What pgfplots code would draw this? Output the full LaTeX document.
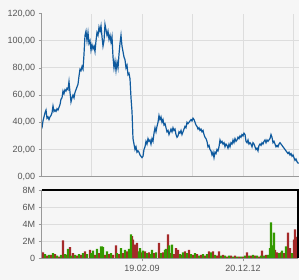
\documentclass[border=0pt]{standalone}
\usepackage{pgfplots}
\pgfplotsset{compat=1.18}
\usepackage{fontspec}
\setmainfont{Liberation Sans}
\definecolor{bg}{HTML}{F6F6F6}
\definecolor{gridc}{HTML}{DDDDDD}
\definecolor{axc}{HTML}{999999}
\definecolor{txt}{HTML}{555555}
\definecolor{linec}{HTML}{0F5A9E}
\definecolor{redv}{HTML}{A52A2A}
\definecolor{greenv}{HTML}{339900}
\begin{document}
\begin{tikzpicture}
\fill[bg] (0bp,0bp) rectangle (299bp,-280bp);
\useasboundingbox (0bp,0bp) rectangle (299bp,-280bp);
\pgfplotsset{
  chartstyle/.style={
    scale only axis,
    axis line style={draw=none},
    tick align=outside,
    major tick length=3bp,
    tick style={axc, line width=0.8bp},
    grid style={gridc, line width=1bp},
    tick label style={font=\fontsize{9bp}{10bp}\selectfont, text=txt},
    ytick pos=left, xtick pos=bottom,
    /pgf/number format/assume math mode=true,
  }
}
\begin{axis}[chartstyle,
  at={(41.7bp,-176.7bp)}, anchor=south west,
  width=257.3bp, height=163.2bp,
  xmin=0.7, xmax=258, ymin=0, ymax=120,
  xtick={50,101,151,202,252}, xticklabels={}, xmajorgrids,
  xtick style={draw=none},
  ytick={20,40,60,80,100},
  yticklabels={{20,00},{40,00},{60,00},{80,00},{100,00}},
  ymajorgrids,
  extra y ticks={0,120},
  extra y tick labels={{0,00},{120,00}},
  extra y tick style={grid=none},
]
\addplot[linec, line width=1.2bp] coordinates {
(0,35)(1,36)(2,41)(3,44)(4,47)(5,49)(6,43)(7,44)(8,42)(9,44)(10,45)(11,47)(12,52)(13,48)(14,49)(15,48)(16,50)(17,49)(18,51)(19,53)
(20,57)(21,58)(22,63)(23,61)(24,64)(25,63)(26,65)(27,64)(28,70)(29,62)(30,55)(31,58)(32,60)(33,58)(34,62)(35,64)(36,66)(37,68)(38,74)(39,79)
(40,78)(41,81)(42,79)(43,90)(44,104)(45,107)(46,100)(47,106)(48,98)(49,100)(50,93)(51,97)(52,94)(53,96)(54,92)(55,100)(56,106)(57,104)(58,110)(59,107)
(60,111)(61,103)(62,96)(63,100)(64,112)(65,108)(66,104)(67,107)(68,101)(69,104)(70,99)(71,103)(72,88)(73,80)(74,85)(75,78)(76,84)(77,80)(78,90)(79,98)
(80,104)(81,96)(82,92)(83,88)(84,86)(85,80)(86,82)(87,75)(88,76)(89,72)(90,58)(91,48)(92,28)(93,24)(94,20)(95,22)(96,18)(97,19)(98,18)(99,16)
(100,15)(101,14)(102,15)(103,20)(104,22)(105,26)(106,24)(107,28)(108,26)(109,27)(110,24)(111,28)(112,26)(113,32)(114,36)(115,33)(116,37)(117,40)(118,45)(119,42)
(120,44)(121,40)(122,42)(123,38)(124,39)(125,36)(126,33)(127,34)(128,31)(129,33)(130,35)(131,33)(132,36)(133,34)(134,35)(135,31)(136,29)(137,30)(138,33)(139,32)
(140,34)(141,31)(142,33)(143,35)(144,37)(145,36)(146,40)(147,39)(148,40)(149,41)(150,42)(151,41)(152,43)(153,42)(154,40)(155,38)(156,37)(157,35)(158,36)(159,34)
(160,35)(161,33)(162,34)(163,31)(164,29)(165,28)(166,26)(167,22)(168,23)(169,20)(170,19)(171,16)(172,18)(173,14)(174,18)(175,17)(176,20)(177,19)(178,22)(179,27)
(180,25)(181,26)(182,24)(183,25)(184,22)(185,24)(186,23)(187,21)(188,24)(189,22)(190,25)(191,24)(192,27)(193,25)(194,28)(195,26)(196,27)(197,29)(198,28)(199,30)
(200,29)(201,31)(202,30)(203,32)(204,31)(205,26)(206,25)(207,27)(208,24)(209,25)(210,24)(211,22)(212,25)(213,24)(214,22)(215,20)(216,21)(217,19)(218,23)(219,24)
(220,23)(221,25)(222,24)(223,26)(224,27)(225,25)(226,27)(227,26)(228,27)(229,28)(230,31)(231,29)(232,25)(233,26)(234,24)(235,22)(236,23)(237,22)(238,24)(239,25)
(240,24)(241,23)(242,22)(243,21)(244,20)(245,19)(246,18)(247,17)(248,18)(249,16)(250,17)(251,15)(252,16)(253,14)(254,12)(255,13)(256,11)(257,10)(258,10)
};
\end{axis}
\draw[axc, line width=1bp] (41.7bp,-13.3bp) -- (41.7bp,-176.7bp) -- (299bp,-176.7bp);
\begin{axis}[chartstyle,
  at={(41.7bp,-258.3bp)}, anchor=south west,
  width=256.3bp, height=68.3bp,
  xmin=0.7, xmax=257, ymin=0, ymax=8,
  xtick={101,202}, xticklabels={19.02.09,20.12.12}, xmajorgrids,
  ytick={2,4,6}, yticklabels={2M,4M,6M}, ymajorgrids,
  extra y ticks={0,8}, extra y tick labels={0,8M},
  extra y tick style={grid=none},
]
\addplot[ybar, bar width=2.2, bar shift=0pt, fill=redv, draw=none] coordinates {
(0,0.8)(2,0.7)(6,0.3)(10,0.4)(14,0.5)(18,0.2)(22,2.1)(26,0.4)(29,1.3)(32,0.6)(36,0.3)(40,0.4)(44,0.8)(49,1.0)(54,0.4)(58,0.6)
(64,0.4)(68,0.5)(72,0.4)(75,1.5)(78,0.5)(82,0.6)(86,0.8)(91,2.6)(92,2.2)(94,1.6)(96,1.8)(100,0.7)(104,0.8)(108,0.7)(113,0.6)(118,1.8)(122,0.7)
(127,2.8)(130,0.6)(133,0.5)(135,1.2)(137,1.0)(141,0.4)(144,0.8)(148,1.0)(152,0.4)(156,0.5)(160,0.4)(164,0.3)(168,0.8)(172,0.8)(176,0.3)(178,0.8)(182,0.4)(186,0.2)(190,0.3)
(194,0.3)(198,0.2)(202,0.2)(206,0.7)(210,0.3)(214,0.3)(218,0.2)(221,0.9)(225,0.4)(234,1.0)(236,0.7)(240,0.7)(243,0.6)(247,3.0)(249,1.2)(253,2.2)(254,3.4)(256,2.5)(257,1.0)
};
\addplot[ybar, bar width=2.2, bar shift=0pt, fill=greenv, draw=none] coordinates {
(4,0.5)(8,0.4)(12,0.6)(16,0.3)(20,0.4)(24,0.5)(27,1.1)(30,0.3)(34,0.4)(38,0.5)(42,0.6)(46,0.5)(50,0.6)(52,0.9)(56,1.1)(60,1.4)(61,1.4)(62,1.3)
(66,0.8)(70,0.6)(76,0.6)(80,1.2)(84,1.0)(88,1.1)(90,2.8)(98,0.8)(99,1.2)(102,0.9)(106,0.6)(110,0.5)(111,1.0)(115,0.7)(120,0.6)(124,1.0)
(125,1.1)(128,1.5)(131,1.6)(139,0.5)(142,0.7)(146,0.6)(150,0.5)(154,0.6)(158,0.3)(162,0.5)(166,0.5)(170,0.7)(174,0.4)(180,0.3)(184,0.3)(188,0.3)
(192,0.2)(196,0.2)(200,0.2)(204,0.3)(208,0.3)(212,0.4)(216,0.3)(220,0.3)(223,0.3)(227,0.4)(229,1.2)(230,4.2)(232,1.5)(233,3.0)(238,0.6)(241,0.9)(245,1.4)(251,0.6)
};
\end{axis}
\draw[axc, line width=1bp] (41.7bp,-190bp) -- (41.7bp,-258.3bp) -- (298bp,-258.3bp);
\draw[black, line width=1.3bp] (41.7bp,-190bp) -- (298bp,-190bp) -- (298bp,-258.3bp);
\end{tikzpicture}
\end{document}
